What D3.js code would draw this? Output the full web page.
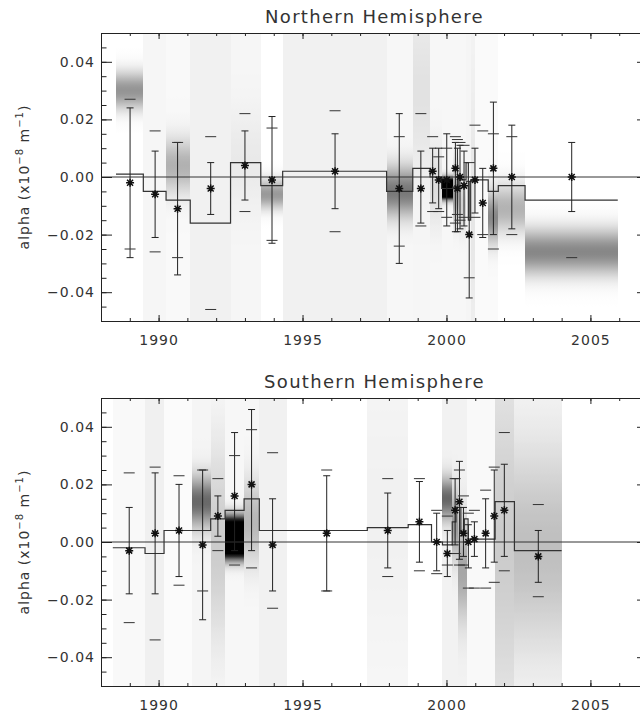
<!DOCTYPE html>
<html>
<head>
<meta charset="utf-8">
<title>alpha by hemisphere</title>
<script src="https://d3js.org/d3.v7.min.js"></script>
<style>
  body { margin: 0; background: #fff; }
  svg text { font-family: "DejaVu Sans", sans-serif; fill: #333; }
</style>
</head>
<body>
<div id="chart"></div>
<script>
// ---------- Northern Hemisphere ----------
const northYears  = [1989.01, 1989.88, 1990.66, 1991.81, 1993.00, 1993.94, 1996.13, 1998.36, 1999.11, 1999.52, 1999.73,
                     2000.01, 2000.31, 2000.47, 2000.38, 2000.61, 2000.79, 2000.99, 2001.26, 2001.63, 2002.27, 2004.35];
const northValues = [-0.002, -0.006, -0.011, -0.004, 0.004, -0.001, 0.002, -0.004, -0.004, 0.002, -0.001,
                     -0.001, 0.003, 0.000, -0.004, -0.003, -0.020, -0.001, -0.009, 0.003, 0.000, 0.000];
const northErrHi  = [0.024, 0.009, 0.012, 0.005, 0.016, 0.021, 0.015, 0.022, 0.009, 0.010, 0.010,
                     0.015, 0.012, 0.011, 0.010, 0.009, -0.0015, 0.010, 0.003, 0.026, 0.018, 0.012];
const northErrLo  = [-0.028, -0.021, -0.034, -0.013, -0.008, -0.023, -0.011, -0.030, -0.016, -0.009, -0.011,
                     -0.017, -0.019, -0.018, -0.019, -0.017, -0.042, -0.0125, -0.021, -0.020, -0.018, -0.012];
const northDashHi = [0.027, 0.016, 0.012, 0.014, 0.022, 0.017, 0.023, 0.014, 0.022, 0.014, 0.007,
                     0.010, 0.014, 0.012, 0.013, 0.011, 0.005, 0.018, 0.016, 0.015, 0.014, null];
const northDashLo = [-0.025, -0.026, -0.028, -0.046, -0.012, -0.022, -0.019, -0.024, -0.017, -0.012, -0.012,
                     -0.014, -0.016, -0.015, -0.013, -0.014, -0.035, -0.014, -0.020, -0.025, -0.020, -0.028];
const northStepEdges  = [1988.52, 1989.47, 1990.26, 1991.10, 1992.50, 1993.55, 1994.31, 1997.92, 1998.83, 1999.43,
                         1999.83, 2000.22, 2000.43, 2000.68, 2000.76, 2000.84, 2001.45, 2001.80, 2002.73, 2005.95];
const northStepValues = [0.001, -0.005, -0.008, -0.016, 0.005, -0.003, 0.002, -0.005, 0.003, 0.000,
                         -0.004, -0.0035, -0.001, 0.005, -0.015, -0.001, -0.005, -0.003, -0.008];
// density bands: start, end, centre, width, peak, base
const northBands = [
  [1988.52, 1989.47, 0.030, 0.0045, 0.42, 0.00],
  [1989.47, 1990.26, 0.000, 1.0, 0.00, 0.035],
  [1990.26, 1991.10, 0.004, 0.0065, 0.28, 0.025],
  [1991.10, 1992.50, 0.000, 1.0, 0.00, 0.055],
  [1992.50, 1993.55, 0.006, 0.012, 0.05, 0.035],
  [1993.55, 1994.31, -0.006, 0.0035, 0.40, 0.00],
  [1994.31, 1997.92, 0.000, 1.0, 0.00, 0.055],
  [1997.92, 1998.83, -0.005, 0.006, 0.50, 0.03],
  [1998.83, 1999.43, 0.030, 0.02, 0.08, 0.035],
  [1999.43, 1999.83, -0.003, 0.01, 0.10, 0.03],
  [1999.83, 2000.22, -0.004, 0.002, 3.00, 0.03],
  [2000.22, 2000.43, -0.006, 0.006, 0.35, 0.03],
  [2000.43, 2000.68, -0.010, 0.006, 0.15, 0.03],
  [2000.68, 2000.84, 0.000, 1.0, 0.00, 0.04],
  [2000.84, 2001.00, -0.010, 0.03, 0.06, 0.04],
  [2001.00, 2001.45, 0.000, 1.0, 0.00, 0.02],
  [2001.45, 2001.80, -0.014, 0.006, 0.45, 0.02],
  [2001.80, 2002.73, -0.011, 0.006, 0.30, 0.00],
  [2002.73, 2005.95, -0.026, 0.0055, 0.47, 0.00]
];

// ---------- Southern Hemisphere ----------
const southYears  = [1988.98, 1989.88, 1990.71, 1991.53, 1992.06, 1992.64, 1993.23, 1993.96, 1995.84, 1997.96, 1999.06,
                     1999.66, 2000.03, 2000.30, 2000.45, 2000.59, 2000.76, 2000.97, 2001.36, 2001.66, 2002.01, 2003.19];
const southValues = [-0.003, 0.003, 0.004, -0.001, 0.009, 0.016, 0.020, -0.001, 0.003, 0.004, 0.007,
                     0.000, -0.004, 0.011, 0.014, 0.003, 0.000, 0.001, 0.003, 0.009, 0.011, -0.005];
const southErrHi  = [0.012, 0.024, 0.020, 0.025, 0.016, 0.038, 0.046, 0.015, 0.023, 0.017, 0.021,
                     0.010, 0.004, 0.022, 0.028, 0.012, 0.006, 0.007, 0.015, 0.025, 0.027, 0.004];
const southErrLo  = [-0.018, -0.018, -0.012, -0.027, 0.002, -0.003, -0.003, -0.017, -0.017, -0.009, -0.007,
                     -0.010, -0.012, -0.001, -0.006, -0.005, -0.009, -0.005, -0.009, -0.007, -0.005, -0.014];
const southDashHi = [0.024, 0.026, 0.023, 0.025, 0.022, 0.030, 0.039, 0.031, 0.025, 0.022, 0.022,
                     0.011, 0.009, 0.022, 0.025, 0.016, 0.010, 0.011, 0.018, 0.026, 0.038, 0.013];
const southDashLo = [-0.028, -0.034, -0.015, -0.017, -0.003, -0.008, -0.009, -0.023, -0.017, -0.012, -0.010,
                     -0.011, -0.008, -0.004, -0.008, -0.008, -0.016, -0.016, -0.016, -0.014, -0.010, -0.019];
const southStepEdges  = [1988.41, 1989.53, 1990.19, 1991.81, 1992.31, 1992.97, 1993.50, 1997.25, 1998.67, 1999.48,
                         1999.86, 2000.20, 2000.33, 2000.50, 2000.62, 2000.75, 2001.00, 2001.69, 2002.36, 2004.00];
const southStepValues = [-0.002, -0.004, 0.004, 0.008, 0.011, 0.015, 0.004, 0.005, 0.006, 0.000,
                         -0.001, 0.007, 0.012, 0.003, 0.008, 0.001, 0.001, 0.014, -0.003];
const southBands = [
  [1988.41, 1989.53, 0.000, 1.0, 0.00, 0.025],
  [1989.53, 1990.19, 0.000, 1.0, 0.00, 0.06],
  [1990.19, 1991.17, 0.000, 1.0, 0.00, 0.015],
  [1991.17, 1991.81, 0.014, 0.006, 0.55, 0.04],
  [1991.81, 1992.31, 0.000, 0.025, 0.18, 0.02],
  [1992.31, 1992.97, 0.0015, 0.004, 3.00, 0.03],
  [1992.97, 1993.50, 0.007, 0.010, 0.25, 0.03],
  [1993.50, 1994.45, 0.000, 1.0, 0.00, 0.055],
  [1997.25, 1998.67, 0.010, 0.04, 0.03, 0.025],
  [1999.86, 2000.20, 0.015, 0.005, 0.55, 0.05],
  [2000.20, 2000.40, 0.006, 0.008, 0.35, 0.05],
  [2000.40, 2000.70, -0.010, 0.012, 0.30, 0.05],
  [2000.70, 2001.69, 0.000, 1.0, 0.00, 0.025],
  [2001.69, 2002.36, 0.000, 0.04, 0.15, 0.05],
  [2002.36, 2004.00, -0.002, 0.025, 0.22, 0.03]
];

const yMajor = [-0.04, -0.02, 0.00, 0.02, 0.04];
const xMajor = [1990, 1995, 2000, 2005];

const svg = d3.select("#chart").append("svg")
    .attr("width", 640)
    .attr("height", 716);
const defs = svg.append("defs");

const x = d3.scaleLinear().domain([1988, 2007]).range([101, 648]);

function drawPanel(id, top, title, d) {
  const y = d3.scaleLinear().domain([-0.05, 0.05]).range([top + 288, top]);
  const g = svg.append("g");

  // density bands
  d.bands.forEach((b, i) => {
    const grad = defs.append("linearGradient")
        .attr("id", `${id}b${i}`)
        .attr("x1", 0).attr("y1", 0).attr("x2", 0).attr("y2", 1);
    for (let k = 0; k <= 100; k++) {
      const v = 0.05 - 0.1 * k / 100;
      const dark = Math.min(1, b[5] + b[4] * Math.exp(-0.5 * Math.pow((v - b[2]) / b[3], 2)));
      const c = Math.round(255 * (1 - dark));
      grad.append("stop").attr("offset", k / 100).attr("stop-color", `rgb(${c},${c},${c})`);
    }
    g.append("rect")
        .attr("x", x(b[0]))
        .attr("y", y(0.05))
        .attr("width", x(b[1]) - x(b[0]))
        .attr("height", y(-0.05) - y(0.05))
        .attr("fill", `url(#${id}b${i})`)
        .attr("shape-rendering", "crispEdges");
  });

  // zero line
  g.append("line")
      .attr("x1", x(1988)).attr("x2", x(2007))
      .attr("y1", y(0)).attr("y2", y(0))
      .attr("stroke", "#333").attr("stroke-width", 1);

  // step line
  const stepPts = d.stepValues.map((v, i) => [d.stepEdges[i], v]);
  stepPts.push([d.stepEdges[d.stepEdges.length - 1], d.stepValues[d.stepValues.length - 1]]);
  g.append("path")
      .attr("d", d3.line().x(p => x(p[0])).y(p => y(p[1])).curve(d3.curveStepAfter)(stepPts))
      .attr("fill", "none")
      .attr("stroke", "#333")
      .attr("stroke-width", 1.2);

  // error bars
  const idx = d.years.map((_, i) => i);
  g.selectAll(".eb").data(idx).join("line")
      .attr("x1", i => x(d.years[i])).attr("x2", i => x(d.years[i]))
      .attr("y1", i => y(d.errHi[i])).attr("y2", i => y(d.errLo[i]))
      .attr("stroke", "#222").attr("stroke-width", 1);
  ["errHi", "errLo"].forEach(k => {
    g.selectAll(".cap" + k).data(idx).join("line")
        .attr("x1", i => x(d.years[i]) - 3.5).attr("x2", i => x(d.years[i]) + 3.5)
        .attr("y1", i => y(d[k][i])).attr("y2", i => y(d[k][i]))
        .attr("stroke", "#222").attr("stroke-width", 1);
  });
  ["dashHi", "dashLo"].forEach(k => {
    g.selectAll(".dash" + k).data(idx.filter(i => d[k][i] !== null)).join("line")
        .attr("x1", i => x(d.years[i]) - 5.5).attr("x2", i => x(d.years[i]) + 5.5)
        .attr("y1", i => y(d[k][i])).attr("y2", i => y(d[k][i]))
        .attr("stroke", "#333").attr("stroke-width", 1);
  });

  // asterisks
  g.selectAll(".pt").data(idx).join("path")
      .attr("transform", i => `translate(${x(d.years[i])},${y(d.values[i])})`)
      .attr("d", "M-4,0L4,0M0,-4L0,4M-3,-3L3,3M-3,3L3,-3")
      .attr("stroke", "#111").attr("stroke-width", 1.5).attr("fill", "none");

  // axes (ticks inward)
  const ax = (gen, tx, ty) => {
    const a = g.append("g").attr("transform", `translate(${tx},${ty})`).call(gen);
    a.attr("font-family", null).attr("font-size", null);
    a.selectAll(".domain, .tick line").attr("stroke", "#222");
    a.selectAll("text").attr("font-size", 14).attr("letter-spacing", 1).attr("fill", "#333");
    return a;
  };
  const bot = y(-0.05), tp = y(0.05);
  ax(d3.axisBottom(x).tickValues(d3.range(1988, 2008)).tickSize(-3).tickSizeOuter(0).tickFormat(""), 0, bot);
  ax(d3.axisBottom(x).tickValues(xMajor).tickSize(-6).tickSizeOuter(0).tickPadding(14).tickFormat(d3.format("d")), 0, bot);
  ax(d3.axisTop(x).tickValues(d3.range(1988, 2008)).tickSize(-3).tickSizeOuter(0).tickFormat(""), 0, tp);
  ax(d3.axisTop(x).tickValues(xMajor).tickSize(-6).tickSizeOuter(0).tickFormat(""), 0, tp);
  const yMinor = d3.range(-10, 11).map(k => k * 0.005);
  ax(d3.axisLeft(y).tickValues(yMinor).tickSize(-5.5).tickSizeOuter(0).tickFormat(""), x(1988), 0);
  ax(d3.axisLeft(y).tickValues(yMajor).tickSize(-11).tickSizeOuter(0).tickPadding(6).tickFormat(d3.format(".2f")), x(1988), 0);
  ax(d3.axisRight(y).tickValues(yMinor).tickSize(-5.5).tickSizeOuter(0).tickFormat(""), x(2007), 0);
  ax(d3.axisRight(y).tickValues(yMajor).tickSize(-11).tickSizeOuter(0).tickFormat(""), x(2007), 0);

  // title
  g.append("text")
      .attr("x", (x(1988) + x(2007)) / 2)
      .attr("y", top - 10)
      .attr("text-anchor", "middle")
      .attr("font-size", 18)
      .attr("letter-spacing", 1.3)
      .text(title);

  // y label
  const yl = g.append("text")
      .attr("transform", `translate(29,${y(0)}) rotate(-90)`)
      .attr("text-anchor", "middle")
      .attr("font-size", 14)
      .attr("letter-spacing", 1);
  yl.append("tspan").text("alpha (x10");
  yl.append("tspan").attr("dy", -6).attr("font-size", 10).text("\u22128");
  yl.append("tspan").attr("dy", 6).text(" m");
  yl.append("tspan").attr("dy", -6).attr("font-size", 10).text("\u22121");
  yl.append("tspan").attr("dy", 6).text(")");
}

drawPanel("n", 33, "Northern Hemisphere", {
  years: northYears, values: northValues, errHi: northErrHi, errLo: northErrLo,
  dashHi: northDashHi, dashLo: northDashLo,
  stepEdges: northStepEdges, stepValues: northStepValues, bands: northBands
});
drawPanel("s", 398, "Southern Hemisphere", {
  years: southYears, values: southValues, errHi: southErrHi, errLo: southErrLo,
  dashHi: southDashHi, dashLo: southDashLo,
  stepEdges: southStepEdges, stepValues: southStepValues, bands: southBands
});
</script>
</body>
</html>
